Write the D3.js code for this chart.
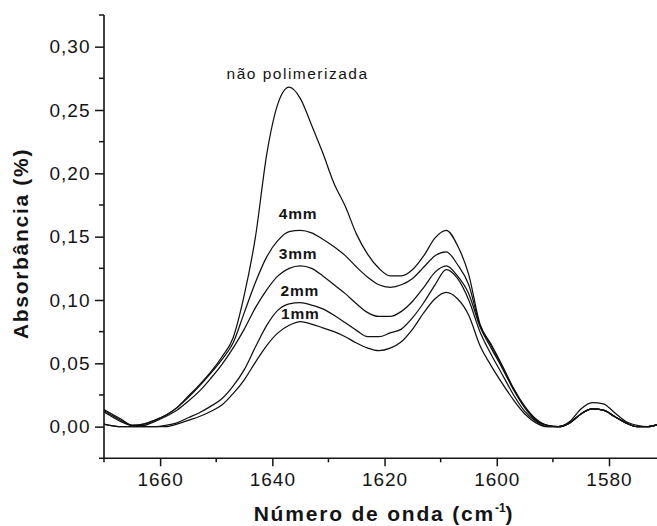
<!DOCTYPE html>
<html>
<head>
<meta charset="utf-8">
<script src="https://cdn.jsdelivr.net/npm/d3@7"></script>
<style>
  html, body { margin: 0; padding: 0; background: #fff; }
  svg { display: block; font-family: "Liberation Sans", Arial, sans-serif; }
</style>
</head>
<body>
<svg id="chart" width="657" height="526"></svg>
<script>
// Wavenumber grid (cm-1), shared by every spectrum
const wavenumbers = [1671,1669,1667,1665,1663,1661,1659,1657,1655,1653,1651,1649,1647,1645,1643,1641,1639,1637,1635,1633,1631,1629,1627,1625,1623,1621,1619,1617,1615,1613,1611,1609,1607,1605,1603,1601,1599,1597,1595,1593,1591,1589,1587,1585,1583,1581,1579,1577,1575,1573,1571,1569];

// Absorbance spectra
const naoPolimerizada = [0.016,0.011,0.006,0.001,0.002,0.005,0.009,0.015,0.024,0.033,0.043,0.055,0.070,0.104,0.150,0.215,0.255,0.268,0.259,0.238,0.216,0.192,0.174,0.152,0.136,0.125,0.119,0.119,0.124,0.135,0.149,0.155,0.143,0.120,0.081,0.065,0.048,0.030,0.016,0.006,0.001,0.000,0.004,0.014,0.019,0.018,0.011,0.004,0.001,0.000,0.002,0.004];
const mm4 = [0.015,0.010,0.005,0.001,0.002,0.005,0.009,0.015,0.023,0.032,0.042,0.053,0.066,0.090,0.114,0.134,0.147,0.154,0.155,0.153,0.148,0.142,0.135,0.126,0.118,0.112,0.110,0.112,0.117,0.126,0.135,0.138,0.128,0.112,0.080,0.064,0.047,0.030,0.015,0.005,0.001,0.000,0.003,0.010,0.014,0.013,0.008,0.003,0.000,0.000,0.002,0.004];
const mm3 = [0.014,0.009,0.004,0.001,0.001,0.004,0.008,0.013,0.020,0.028,0.038,0.049,0.062,0.077,0.094,0.108,0.119,0.125,0.127,0.125,0.119,0.112,0.105,0.097,0.090,0.087,0.087,0.091,0.099,0.110,0.122,0.127,0.119,0.105,0.079,0.062,0.046,0.029,0.015,0.005,0.001,0.000,0.003,0.010,0.014,0.013,0.008,0.003,0.000,0.000,0.002,0.004];
const mm2 = [0.003,0.001,0.000,0.000,0.000,0.000,0.001,0.003,0.007,0.011,0.016,0.022,0.032,0.045,0.063,0.080,0.092,0.097,0.098,0.096,0.093,0.088,0.082,0.076,0.071,0.071,0.074,0.077,0.086,0.098,0.112,0.124,0.117,0.100,0.075,0.057,0.041,0.025,0.012,0.004,0.000,0.000,0.003,0.010,0.014,0.013,0.008,0.003,0.000,0.000,0.002,0.004];
const mm1 = [0.003,0.001,0.000,0.000,0.000,0.000,0.000,0.002,0.005,0.008,0.012,0.017,0.026,0.037,0.051,0.064,0.074,0.080,0.083,0.081,0.078,0.075,0.071,0.066,0.062,0.060,0.062,0.067,0.077,0.090,0.101,0.106,0.101,0.088,0.064,0.048,0.034,0.021,0.010,0.003,0.000,0.000,0.003,0.010,0.014,0.013,0.008,0.003,0.000,0.000,0.002,0.004];

const seriesValues = [naoPolimerizada, mm4, mm3, mm2, mm1];

// Curve labels and where they sit (wavenumber, absorbance)
const labelTexts = ["não polimerizada", "4mm", "3mm", "2mm", "1mm"];
const labelX = [1635.5, 1635.4, 1635.4, 1635.1, 1635.0];
const labelY = [0.2742, 0.1637, 0.1321, 0.1031, 0.0847];

// Axis ticks
const xMajorTicks = [1660, 1640, 1620, 1600, 1580];
const xMinorTicks = [1670, 1650, 1630, 1610, 1590, 1570];
const yMajorTicks = [0, 0.05, 0.10, 0.15, 0.20, 0.25, 0.30];
const yMinorTicks = [-0.025, 0.025, 0.075, 0.125, 0.175, 0.225, 0.275, 0.325];

const svg = d3.select("#chart");
const W = 657;
const plotLeft = 104, plotTop = 15, plotBottom = 458.3;

const x = d3.scaleLinear().domain([1670, 1580]).range([plotLeft, 609]);
const y = d3.scaleLinear().domain([-0.025, 0.325]).range([plotBottom, plotTop]);

const ink = "#141414";
const fmt = v => d3.format(".2f")(v).replace(".", ",");

svg.append("defs").append("clipPath").attr("id", "plot")
  .append("rect").attr("x", plotLeft).attr("y", plotTop).attr("width", W - plotLeft).attr("height", plotBottom - plotTop);

// Spectra
const line = d3.line()
  .x((d, i) => x(wavenumbers[i]))
  .y(d => y(d))
  .curve(d3.curveMonotoneX);

svg.append("g").attr("clip-path", "url(#plot)")
  .selectAll("path").data(seriesValues).join("path")
  .attr("d", line)
  .attr("fill", "none")
  .attr("stroke", "#111")
  .attr("stroke-width", 1.25)
  .attr("stroke-linejoin", "round");

// X axis
const xAxisG = svg.append("g").attr("transform", `translate(0,${plotBottom})`);
xAxisG.call(d3.axisBottom(x).tickValues(xMajorTicks).tickSize(8).tickSizeOuter(0).tickPadding(6.5).tickFormat(d3.format("d")));
xAxisG.append("g").selectAll("line").data(xMinorTicks.filter(d => x(d) <= W)).join("line")
  .attr("x1", d => x(d)).attr("x2", d => x(d)).attr("y1", 0).attr("y2", 4)
  .attr("stroke", ink).attr("stroke-width", 1.5);
xAxisG.select(".domain").attr("d", `M${plotLeft},0H${W}`);

// Y axis
const yAxisG = svg.append("g").attr("transform", `translate(${plotLeft},0)`);
yAxisG.call(d3.axisLeft(y).tickValues(yMajorTicks).tickSize(9).tickSizeOuter(0).tickPadding(4.5).tickFormat(fmt));
yAxisG.append("g").selectAll("line").data(yMinorTicks).join("line")
  .attr("x1", -5).attr("x2", 0).attr("y1", d => y(d)).attr("y2", d => y(d))
  .attr("stroke", ink).attr("stroke-width", 1.5);
yAxisG.select(".domain").attr("d", `M0,${plotTop}V${plotBottom}`);

[xAxisG, yAxisG].forEach(g => {
  g.select(".domain").attr("stroke", ink).attr("stroke-width", 1.6);
  g.selectAll(".tick line").attr("stroke", ink).attr("stroke-width", 1.5);
  g.selectAll(".tick text")
    .attr("fill", ink)
    .style("font-size", "19px")
    .style("letter-spacing", "1px")
    .style("font-family", "'Liberation Sans', Arial, sans-serif");
});

// Axis titles
svg.append("text")
  .attr("transform", "translate(28,243.5) rotate(-90)")
  .attr("text-anchor", "middle")
  .attr("fill", ink)
  .style("font-size", "21px").style("font-weight", "bold").style("letter-spacing", "1.7px")
  .text("Absorbância (%)");

const xt = svg.append("text")
  .attr("x", 384).attr("y", 521)
  .attr("text-anchor", "middle")
  .attr("fill", ink)
  .style("font-size", "21px").style("font-weight", "bold").style("letter-spacing", "1.8px");
xt.append("tspan").text("Número de onda (cm");
xt.append("tspan").attr("dy", -9).style("font-size", "12px").style("letter-spacing", "0px").text("-1");
xt.append("tspan").attr("dy", 9).text(")");

// Curve labels
svg.append("g").selectAll("text").data(labelTexts).join("text")
  .attr("x", (d, i) => x(labelX[i]))
  .attr("y", (d, i) => y(labelY[i]))
  .attr("text-anchor", "middle")
  .attr("fill", ink)
  .style("font-size", "15.5px")
  .style("font-weight", (d, i) => i === 0 ? "normal" : "bold")
  .style("letter-spacing", (d, i) => i === 0 ? "1.5px" : "0.8px")
  .text(d => d);
</script>
</body>
</html>
